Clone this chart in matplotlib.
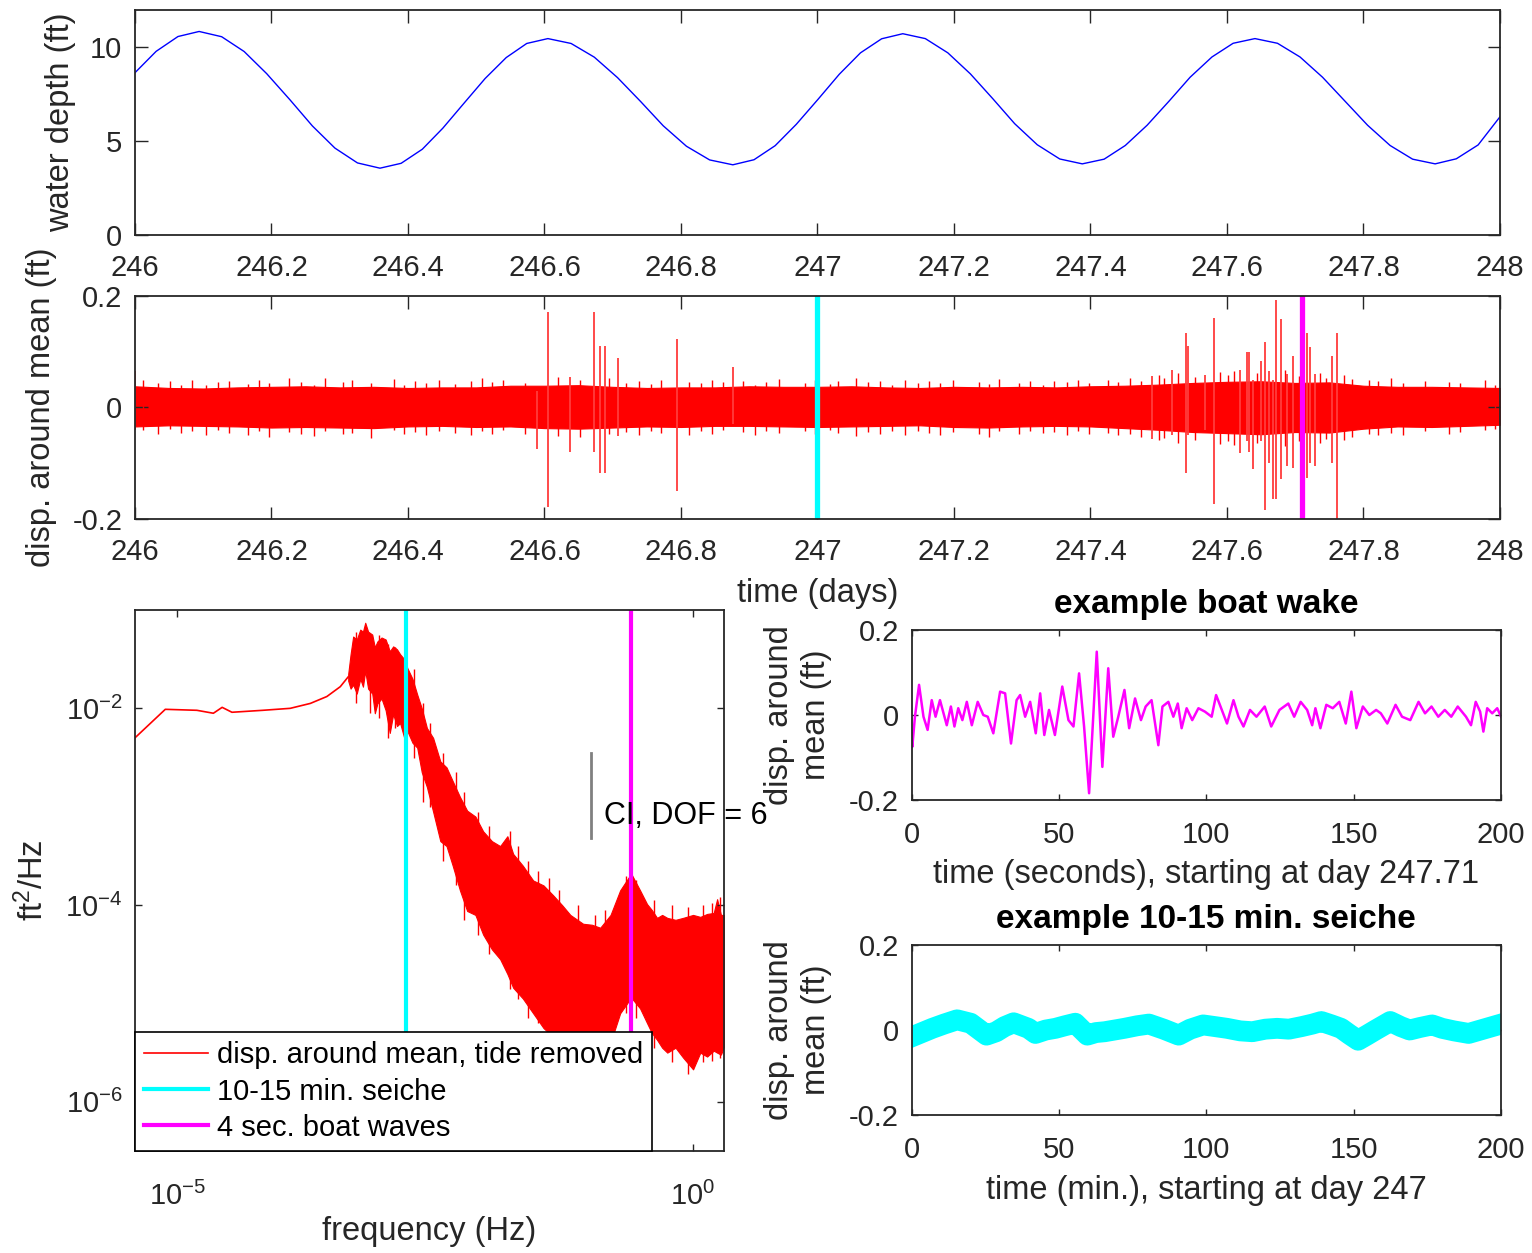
# -*- coding: utf-8 -*-
"""
Tide gauge record: water depth, de-tided displacement, its spectrum and
two zoomed examples (boat wake, 10-15 min seiche).
"""

import numpy as np
import matplotlib
matplotlib.use('Agg')
import matplotlib.pyplot as plt
from matplotlib.ticker import FixedLocator, FuncFormatter, NullLocator

plt.rcParams['font.family'] = ['Liberation Sans', 'DejaVu Sans']
plt.rcParams['mathtext.default'] = 'regular'
plt.rcParams['axes.unicode_minus'] = False

FS = 21      # tick labels, legend
LFS = 23.5   # axis labels
TFS = 24     # titles
DARK = '#262626'

# ---- water depth (ft) vs day
tide_day = [246.000, 246.031, 246.063, 246.094, 246.127, 246.160, 246.193,
            246.227, 246.260, 246.293, 246.326, 246.359, 246.390, 246.421,
            246.451, 246.482, 246.513, 246.544, 246.574, 246.605, 246.639,
            246.673, 246.707, 246.741, 246.774, 246.808, 246.842, 246.876,
            246.907, 246.938, 246.969, 247.001, 247.032, 247.063, 247.094,
            247.125, 247.158, 247.191, 247.224, 247.257, 247.289, 247.322,
            247.355, 247.388, 247.420, 247.451, 247.483, 247.515, 247.546,
            247.578, 247.609, 247.641, 247.674, 247.707, 247.740, 247.773,
            247.806, 247.839, 247.872, 247.905, 247.936, 247.968, 248.000]
tide_ft = [8.65, 9.79, 10.58, 10.85, 10.57, 9.78, 8.60,
           7.21, 5.81, 4.63, 3.84, 3.56, 3.82, 4.57,
           5.69, 7.02, 8.34, 9.46, 10.21, 10.47, 10.21,
           9.48, 8.39, 7.11, 5.82, 4.73, 4.00, 3.74,
           4.01, 4.76, 5.90, 7.24, 8.57, 9.71, 10.46,
           10.73, 10.47, 9.71, 8.59, 7.26, 5.93, 4.81,
           4.05, 3.79, 4.04, 4.77, 5.85, 7.13, 8.41,
           9.49, 10.22, 10.47, 10.22, 9.49, 8.41, 7.13,
           5.85, 4.77, 4.04, 3.79, 4.06, 4.80, 6.30]

# ---- displacement around mean: solid core of the noise band
band_day = [246.00, 246.05, 246.10, 246.15, 246.20, 246.25, 246.30, 246.35,
            246.40, 246.45, 246.50, 246.55, 246.60, 246.65, 246.70, 246.75,
            246.80, 246.85, 246.90, 246.95, 247.00, 247.05, 247.10, 247.15,
            247.20, 247.25, 247.30, 247.35, 247.40, 247.45, 247.50, 247.55,
            247.60, 247.65, 247.70, 247.75, 247.80, 247.85, 247.90, 247.95,
            248.00]
band_hi = [0.038, 0.035, 0.034, 0.036, 0.037, 0.038, 0.036, 0.037,
           0.035, 0.036, 0.036, 0.039, 0.039, 0.040, 0.037, 0.035,
           0.036, 0.036, 0.038, 0.037, 0.037, 0.038, 0.036, 0.035,
           0.037, 0.036, 0.037, 0.036, 0.038, 0.039, 0.041, 0.044,
           0.046, 0.047, 0.044, 0.045, 0.039, 0.037, 0.037, 0.036,
           0.035]
band_lo = [-0.034, -0.032, -0.033, -0.034, -0.036, -0.035, -0.036, -0.037,
           -0.034, -0.033, -0.035, -0.034, -0.037, -0.038, -0.036, -0.034,
           -0.035, -0.033, -0.033, -0.034, -0.035, -0.034, -0.033, -0.032,
           -0.035, -0.036, -0.034, -0.033, -0.034, -0.037, -0.040, -0.044,
           -0.046, -0.048, -0.044, -0.045, -0.038, -0.034, -0.035, -0.033,
           -0.031]

# ragged fringe of the band (day, top, bottom)
fringe_day = [246.012, 246.034, 246.051, 246.067, 246.083, 246.104, 246.121,
              246.138, 246.166, 246.181, 246.197, 246.226, 246.243, 246.262,
              246.279, 246.305, 246.318, 246.346, 246.379, 246.394, 246.410,
              246.427, 246.445, 246.469, 246.492, 246.508, 246.523, 246.539,
              246.571, 246.620, 246.652, 246.694, 246.720, 246.738, 246.756,
              246.771, 246.812, 246.829, 246.846, 246.862, 246.891, 246.908,
              246.925, 246.944, 246.982, 246.996, 247.018, 247.030, 247.057,
              247.074, 247.091, 247.109, 247.128, 247.147, 247.163, 247.180,
              247.199, 247.236, 247.252, 247.266, 247.296, 247.311, 247.330,
              247.347, 247.365, 247.381, 247.398, 247.426, 247.441, 247.458,
              247.474, 247.500, 247.507, 247.528, 247.553, 247.590, 247.602,
              247.611, 247.644, 247.685, 247.705, 247.736, 247.745, 247.772,
              247.783, 247.808, 247.822, 247.840, 247.858, 247.890, 247.925,
              247.942, 247.978, 247.992]
fringe_hi = [0.050, 0.043, 0.047, 0.041, 0.049, 0.040, 0.045,
             0.048, 0.042, 0.050, 0.044, 0.053, 0.046, 0.041,
             0.052, 0.045, 0.049, 0.043, 0.051, 0.040, 0.047,
             0.044, 0.050, 0.042, 0.048, 0.053, 0.045, 0.049,
             0.043, 0.055, 0.049, 0.052, 0.044, 0.047, 0.042,
             0.049, 0.046, 0.043, 0.050, 0.045, 0.048, 0.041,
             0.046, 0.051, 0.044, 0.049, 0.042, 0.047, 0.053,
             0.045, 0.048, 0.041, 0.050, 0.044, 0.047, 0.043,
             0.049, 0.046, 0.042, 0.051, 0.044, 0.048, 0.041,
             0.047, 0.045, 0.050, 0.043, 0.049, 0.046, 0.052,
             0.048, 0.058, 0.053, 0.061, 0.055, 0.063, 0.059,
             0.065, 0.061, 0.068, 0.057, 0.061, 0.053, 0.058,
             0.051, 0.049, 0.047, 0.052, 0.044, 0.048, 0.046,
             0.043, 0.049, 0.041]
fringe_lo = [-0.041, -0.048, -0.039, -0.045, -0.043, -0.050, -0.040,
             -0.046, -0.049, -0.042, -0.053, -0.044, -0.047, -0.051,
             -0.043, -0.048, -0.045, -0.055, -0.041, -0.047, -0.044,
             -0.049, -0.042, -0.046, -0.050, -0.043, -0.047, -0.041,
             -0.048, -0.051, -0.053, -0.047, -0.044, -0.049, -0.042,
             -0.046, -0.050, -0.043, -0.047, -0.041, -0.044, -0.049,
             -0.042, -0.046, -0.043, -0.048, -0.041, -0.045, -0.051,
             -0.044, -0.047, -0.042, -0.049, -0.043, -0.046, -0.050,
             -0.044, -0.047, -0.053, -0.043, -0.048, -0.042, -0.046,
             -0.044, -0.049, -0.043, -0.047, -0.045, -0.050, -0.048,
             -0.053, -0.059, -0.055, -0.063, -0.058, -0.065, -0.061,
             -0.067, -0.063, -0.069, -0.061, -0.063, -0.057, -0.059,
             -0.053, -0.048, -0.050, -0.045, -0.049, -0.043, -0.047,
             -0.044, -0.041, -0.039]

# large individual spikes (day, top, bottom)
spike_day = [246.000, 246.589, 246.605, 246.637, 246.673, 246.681, 246.688,
             246.707, 246.794, 246.876, 247.490, 247.519, 247.540, 247.543,
             247.568, 247.581, 247.619, 247.629, 247.632, 247.638, 247.650,
             247.656, 247.661, 247.668, 247.672, 247.679, 247.688, 247.697,
             247.717, 247.721, 247.729, 247.754, 247.761]
spike_hi = [0.065, 0.030, 0.172, 0.055, 0.172, 0.110, 0.110,
            0.088, 0.122, 0.073, 0.056, 0.068, 0.134, 0.110,
            0.058, 0.160, 0.068, 0.100, 0.100, 0.050, 0.083,
            0.117, 0.065, 0.050, 0.193, 0.158, 0.060, 0.092,
            0.134, 0.108, 0.060, 0.092, 0.134]
spike_lo = [-0.040, -0.075, -0.178, -0.080, -0.080, -0.117, -0.117,
            -0.052, -0.149, -0.030, -0.057, -0.050, -0.117, -0.050,
            -0.040, -0.174, -0.082, -0.060, -0.080, -0.110, -0.060,
            -0.183, -0.100, -0.165, -0.165, -0.129, -0.105, -0.108,
            -0.126, -0.100, -0.105, -0.100, -0.200]

seiche_mark_day = 247.0
wake_mark_day = 247.71

# ---- spectrum (log10 f, log10 PSD)
psd_line_logf = [-5.41, -5.116, -4.81, -4.65, -4.565, -4.47, -4.17,
                 -3.905, -3.71, -3.55, -3.42, -3.343]
psd_line_logp = [-2.30, -2.01, -2.02, -2.05, -1.99, -2.04, -2.02,
                 -2.00, -1.95, -1.88, -1.78, -1.68]
psd_band_logf = [-3.343, -3.32, -3.295, -3.26, -3.226, -3.20, -3.178, -3.15,
                 -3.11, -3.085, -3.06, -3.02, -2.98, -2.94, -2.907, -2.87,
                 -2.84, -2.80, -2.77, -2.72, -2.674, -2.63, -2.58, -2.52,
                 -2.45, -2.39, -2.33, -2.26, -2.19, -2.11, -2.035, -1.95,
                 -1.87, -1.80, -1.744, -1.65, -1.55, -1.45, -1.357, -1.27,
                 -1.19, -1.066, -0.98, -0.90, -0.80, -0.707, -0.60, -0.514,
                 -0.446, -0.40, -0.349, -0.30, -0.25, -0.17, -0.097, 0.0,
                 0.07, 0.136, 0.20, 0.233, 0.27, 0.30]
psd_band_hi = [-1.65, -1.45, -1.27, -1.30, -1.20, -1.22, -1.13, -1.22,
               -1.25, -1.38, -1.32, -1.28, -1.30, -1.42, -1.37, -1.40,
               -1.45, -1.50, -1.59, -1.70, -1.86, -2.00, -2.20, -2.30,
               -2.54, -2.60, -2.74, -2.90, -3.04, -3.10, -3.25, -3.35,
               -3.40, -3.30, -3.48, -3.60, -3.75, -3.80, -3.90, -4.00,
               -4.10, -4.19, -4.20, -4.23, -4.10, -3.85, -3.68, -3.85,
               -3.99, -4.05, -4.13, -4.10, -4.13, -4.15, -4.13, -4.10,
               -4.12, -4.09, -4.08, -3.94, -4.10, -4.10]
psd_band_lo = [-1.72, -1.80, -1.76, -1.85, -1.70, -1.78, -1.62, -1.80,
               -1.85, -2.05, -1.95, -1.90, -2.02, -2.25, -2.06, -2.18,
               -2.15, -2.30, -2.23, -2.35, -2.40, -2.65, -2.80, -3.05,
               -3.35, -3.40, -3.60, -3.85, -4.06, -4.10, -4.30, -4.45,
               -4.55, -4.70, -4.84, -4.95, -5.10, -5.25, -5.34, -5.45,
               -5.50, -5.55, -5.60, -5.55, -5.40, -5.10, -4.94, -5.05,
               -5.20, -5.30, -5.37, -5.45, -5.50, -5.45, -5.55, -5.67,
               -5.50, -5.54, -5.48, -5.50, -5.52, -5.44]
# thin spikes poking out of the spectral band
psd_spike_logf = [-3.27, -3.13, -3.04, -2.96, -2.89, -2.71, -2.62, -2.55,
                  -2.42, -2.30, -2.22, -2.08, -1.98, -1.77, -1.70, -1.60,
                  -1.50, -1.40, -1.30, -1.12, -0.95, -0.85, -0.65, -0.55,
                  -0.38, -0.20, -0.05, 0.10, 0.18, 0.26]
psd_spike_hi = [-1.22, -1.25, -1.25, -1.35, -1.38, -1.60, -1.95, -2.15,
                -2.45, -2.65, -2.85, -3.05, -3.20, -3.25, -3.40, -3.55,
                -3.65, -3.72, -3.85, -4.00, -4.10, -4.05, -3.70, -3.75,
                -3.95, -4.00, -4.02, -4.00, -3.98, -3.92]
psd_spike_lo = [-1.95, -2.05, -2.10, -2.30, -2.20, -2.50, -2.95, -3.00,
                -3.55, -3.80, -4.15, -4.30, -4.50, -4.85, -4.95, -5.15,
                -5.20, -5.40, -5.50, -5.60, -5.65, -5.50, -5.10, -5.15,
                -5.45, -5.60, -5.72, -5.60, -5.58, -5.55]
seiche_freq = 1.0 / 600   # Hz
wake_freq = 0.25          # Hz
ci_freq = 0.103
ci_logp = [-2.456, -3.316]

# ---- example boat wake (seconds from day 247.71, ft)
wake_t = [0.0, 0.2, 1.1, 2.5, 4.0, 5.4, 6.8, 8.1, 9.6, 11.9, 13.3, 14.5,
          15.8, 17.2, 18.7, 20.4, 22.4, 24.3, 25.8, 27.7, 30.0, 31.7, 33.7,
          35.6, 36.8, 38.5, 40.2, 42.1, 43.6, 45.0, 46.6, 48.6, 51.1, 53.2,
          54.9, 56.8, 58.5, 60.2, 62.8, 64.7, 66.7, 68.4, 70.1, 72.2, 73.8,
          75.8, 77.8, 79.4, 81.4, 83.7, 85.1, 87.1, 88.8, 90.3, 91.6, 93.3,
          95.2, 97.3, 99.5, 101.8, 103.3, 104.8, 107.0, 109.2, 110.9, 112.6,
          114.8, 117.0, 119.8, 122.0, 124.8, 127.8, 129.8, 132.0, 134.2,
          135.9, 137.0, 138.7, 140.7, 142.9, 145.1, 147.3, 149.2, 150.9,
          153.1, 155.3, 157.6, 159.2, 161.4, 164.2, 166.4, 169.2, 172.0,
          174.2, 176.4, 178.7, 180.9, 183.1, 185.3, 188.1, 189.8, 191.4,
          192.9, 194.0, 195.3, 197.0, 198.7, 200.0]
wake_ft = [-0.043, -0.075, -0.004, 0.071, -0.004, -0.035, 0.035, -0.004,
           0.035, -0.024, 0.020, -0.027, 0.016, -0.012, 0.031, -0.024,
           0.031, 0.000, -0.004, -0.043, 0.055, 0.051, -0.067, 0.035,
           0.047, -0.004, 0.031, -0.043, 0.051, -0.047, 0.012, -0.047,
           0.067, -0.012, -0.027, 0.098, -0.027, -0.184, 0.149, -0.122,
           0.110, -0.051, -0.004, 0.059, -0.031, 0.039, -0.012, 0.020,
           0.035, -0.071, 0.020, 0.031, -0.004, 0.027, -0.031, 0.016,
           -0.012, 0.016, 0.008, -0.004, 0.047, 0.020, -0.020, 0.035,
           -0.004, -0.027, 0.012, -0.004, 0.020, -0.027, 0.012, 0.027,
           -0.004, 0.031, 0.012, -0.024, 0.016, -0.031, 0.024, 0.016,
           0.031, -0.020, 0.055, -0.031, 0.020, 0.000, 0.012, 0.004,
           -0.020, 0.024, -0.004, -0.012, 0.031, 0.004, 0.020, -0.004,
           0.012, -0.004, 0.020, -0.004, -0.024, 0.031, 0.008, -0.039,
           0.016, 0.004, 0.016, -0.004]

# ---- example seiche (minutes from day 247, ft), centre of the thick trace
seiche_t = [0.0, 3.5, 7.0, 11.0, 15.4, 20.0, 25.4, 28.7, 31.5, 34.6, 39.6,
            42.0, 45.5, 48.8, 52.0, 55.5, 59.6, 62.5, 65.5, 72.2, 76.5,
            80.5, 85.5, 90.6, 94.5, 98.9, 103.0, 107.0, 111.5, 115.6, 120.0,
            124.0, 128.0, 132.3, 136.0, 139.0, 142.5, 145.7, 148.5, 151.5,
            154.5, 157.4, 162.4, 166.0, 169.0, 172.5, 176.6, 180.0, 184.0,
            189.0, 194.0, 199.0, 200.0]
seiche_ft = [-0.016, -0.006, 0.004, 0.014, 0.024, 0.016, -0.012, -0.004,
             0.008, 0.017, 0.004, -0.008, 0.000, 0.004, 0.010, 0.016,
             -0.012, -0.006, -0.004, 0.004, 0.010, 0.014, 0.002, -0.012,
             0.002, 0.012, 0.008, 0.004, -0.002, -0.004, 0.002, 0.004,
             0.002, 0.008, 0.014, 0.020, 0.012, 0.004, -0.010, -0.024,
             -0.012, 0.000, 0.020, 0.008, 0.000, 0.006, 0.012, 0.004,
             -0.002, -0.008, 0.002, 0.012, 0.014]


def matlab_style(ax, ticklen, xpad=14):
    """ MATLAB-like box: ticks inside on all four sides """
    ax.tick_params(which='both', direction='in', top=True, right=True,
                   length=ticklen, width=1, colors=DARK, labelsize=FS)
    ax.tick_params(axis='x', pad=xpad)
    ax.tick_params(axis='y', pad=9)
    for sp in ax.spines.values():
        sp.set_color(DARK)
        sp.set_linewidth(1.3)


gfmt = FuncFormatter(lambda v, p: '%g' % v)
pow10 = FuncFormatter(lambda v, p: '$10^{%d}$' % round(np.log10(v)))

fig = plt.figure(figsize=(15.32, 12.53), dpi=100)

# top: water depth
ax1 = fig.add_axes([0.0881, 0.8125, 0.8910, 0.1796])
ax1.plot(tide_day, tide_ft, color='b', lw=1.0)
ax1.set_xlim(246, 248)
ax1.set_ylim(0, 12)
ax1.xaxis.set_major_locator(FixedLocator(np.arange(246, 248.01, 0.2)))
ax1.yaxis.set_major_locator(FixedLocator([0, 5, 10]))
ax1.xaxis.set_major_formatter(gfmt)
ax1.set_ylabel('water depth (ft)', fontsize=LFS, color=DARK)
ax1.yaxis.set_label_coords(-0.043, 0.5)
matlab_style(ax1, 9)

# middle: displacement around mean
ax2 = fig.add_axes([0.0881, 0.5858, 0.8910, 0.1780])
ax2.fill_between(band_day, band_lo, band_hi, color='red', lw=0.8)
ax2.vlines(fringe_day, fringe_lo, fringe_hi, color='red', lw=1.0)
ax2.vlines(spike_day, spike_lo, spike_hi, color='#ff3c3c', lw=1.3)
ax2.axvline(seiche_mark_day, color='cyan', lw=3.8)
ax2.axvline(wake_mark_day, color='magenta', lw=3.8)
ax2.set_xlim(246, 248)
ax2.set_ylim(-0.2, 0.2)
ax2.xaxis.set_major_locator(FixedLocator(np.arange(246, 248.01, 0.2)))
ax2.yaxis.set_major_locator(FixedLocator([-0.2, 0, 0.2]))
ax2.xaxis.set_major_formatter(gfmt)
ax2.yaxis.set_major_formatter(gfmt)
ax2.set_ylabel('disp. around mean (ft)', fontsize=LFS, color=DARK)
ax2.yaxis.set_label_coords(-0.057, 0.5)
ax2.set_xlabel('time (days)', fontsize=LFS, color=DARK)
ax2.xaxis.set_label_coords(0.5, -0.265)
matlab_style(ax2, 9)

# bottom left: spectrum
ax3 = fig.add_axes([0.0881, 0.0814, 0.3845, 0.4318])
ax3.set_xscale('log')
ax3.set_yscale('log')
ax3.plot(10 ** np.array(psd_line_logf), 10 ** np.array(psd_line_logp),
         color='red', lw=1.2, label='disp. around mean, tide removed')
ax3.fill_between(10 ** np.array(psd_band_logf), 10 ** np.array(psd_band_lo),
                 10 ** np.array(psd_band_hi), color='red', lw=0.8)
ax3.vlines(10 ** np.array(psd_spike_logf), 10 ** np.array(psd_spike_lo),
           10 ** np.array(psd_spike_hi), color='red', lw=1.0)
ax3.axvline(seiche_freq, color='cyan', lw=3, label='10-15 min. seiche')
ax3.axvline(wake_freq, color='magenta', lw=3, label='4 sec. boat waves')
ax3.plot([ci_freq, ci_freq], 10 ** np.array(ci_logp), color='gray', lw=2)
ax3.text(ci_freq * 1.33, 10 ** -3.09, 'CI, DOF = 6', fontsize=22,
         color='k', va='center', ha='left', clip_on=False, zorder=10)
ax3.set_xlim(10 ** -5.41, 10 ** 0.30)
ax3.set_ylim(10 ** -6.5, 10 ** -1.0)
ax3.xaxis.set_major_locator(FixedLocator([1e-5, 1e0]))
ax3.yaxis.set_major_locator(FixedLocator([1e-6, 1e-4, 1e-2]))
ax3.xaxis.set_minor_locator(NullLocator())
ax3.yaxis.set_minor_locator(NullLocator())
ax3.xaxis.set_major_formatter(pow10)
ax3.yaxis.set_major_formatter(pow10)
ax3.set_xlabel('frequency (Hz)', fontsize=LFS, color=DARK)
ax3.xaxis.set_label_coords(0.5, -0.12)
ax3.set_ylabel('ft$^2$/Hz', fontsize=LFS, color=DARK)
ax3.yaxis.set_label_coords(-0.144, 0.5)
matlab_style(ax3, 5, xpad=22)
leg = ax3.legend(loc='lower left', bbox_to_anchor=(0, 0), borderaxespad=0,
                 fancybox=False, edgecolor='k', framealpha=1, fontsize=FS,
                 handlelength=2.2, handletextpad=0.28, labelspacing=0.28,
                 borderpad=0.32)
leg.get_frame().set_linewidth(1.2)
leg.set_zorder(20)

# bottom right: example boat wake
ax4 = fig.add_axes([0.5951, 0.3615, 0.3847, 0.1357])
ax4.plot(wake_t, wake_ft, color='magenta', lw=1.8)
ax4.set_xlim(0, 200)
ax4.set_ylim(-0.2, 0.2)
ax4.xaxis.set_major_locator(FixedLocator([0, 50, 100, 150, 200]))
ax4.yaxis.set_major_locator(FixedLocator([-0.2, 0, 0.2]))
ax4.yaxis.set_major_formatter(gfmt)
ax4.set_title('example boat wake', fontsize=TFS, fontweight='bold', pad=12)
ax4.set_ylabel('disp. around\nmean (ft)', fontsize=LFS, color=DARK,
               linespacing=1.25)
ax4.yaxis.set_label_coords(-0.135, 0.5)
ax4.set_xlabel('time (seconds), starting at day 247.71', fontsize=LFS,
               color=DARK)
ax4.xaxis.set_label_coords(0.5, -0.345)
matlab_style(ax4, 4, xpad=15)

# bottom right: example seiche
ax5 = fig.add_axes([0.5951, 0.1101, 0.3847, 0.1357])
ax5.plot(seiche_t, seiche_ft, color='cyan', lw=15, solid_joinstyle='round')
ax5.set_xlim(0, 200)
ax5.set_ylim(-0.2, 0.2)
ax5.xaxis.set_major_locator(FixedLocator([0, 50, 100, 150, 200]))
ax5.yaxis.set_major_locator(FixedLocator([-0.2, 0, 0.2]))
ax5.yaxis.set_major_formatter(gfmt)
ax5.set_title('example 10-15 min. seiche', fontsize=TFS, fontweight='bold',
              pad=12)
ax5.set_ylabel('disp. around\nmean (ft)', fontsize=LFS, color=DARK,
               linespacing=1.25)
ax5.yaxis.set_label_coords(-0.135, 0.5)
ax5.set_xlabel('time (min.), starting at day 247', fontsize=LFS, color=DARK)
ax5.xaxis.set_label_coords(0.5, -0.355)
matlab_style(ax5, 4, xpad=15)

fig.savefig('out.png', dpi=100)
